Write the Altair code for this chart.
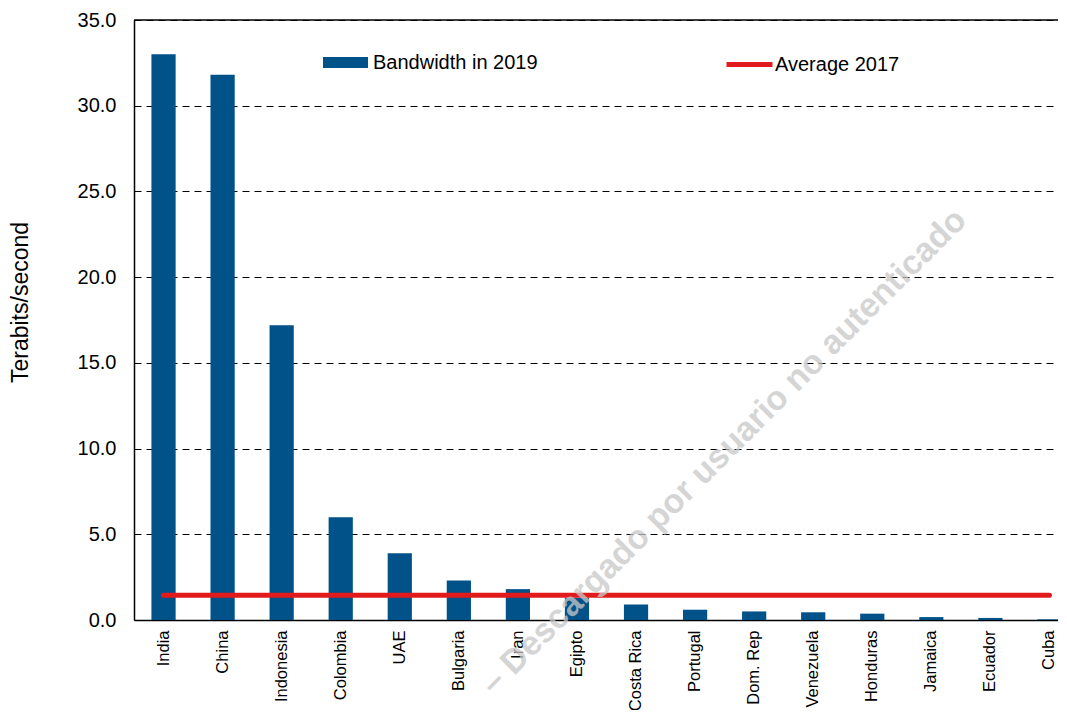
import altair as alt
import pandas as pd

countries = ["India", "China", "Indonesia", "Colombia", "UAE", "Bulgaria", "Iran", "Egipto",
             "Costa Rica", "Portugal", "Dom. Rep", "Venezuela", "Honduras", "Jamaica", "Ecuador", "Cuba"]
bandwidth_2019 = [33.0, 31.8, 17.2, 6.0, 3.9, 2.3, 1.8, 1.3, 0.9, 0.6, 0.5, 0.45, 0.37, 0.17, 0.12, 0.04]
average_2017 = 1.45
y_ticks = [0, 5, 10, 15, 20, 25, 30, 35]
bar_series = "Bandwidth in 2019"
line_series = "Average 2017"
watermark = "– Descargado por usuario no autenticado"

FONT = "Liberation Sans"
BLUE = "#005288"
RED = "#E11B1B"

df = pd.DataFrame({
    "country": countries,
    "value": bandwidth_2019,
    "avg": [average_2017] * len(countries),
    "s1": [bar_series] * len(countries),
    "s2": [line_series] * len(countries),
})

x_scale = alt.Scale(domain=countries, range=[0, 945], paddingInner=0.59, paddingOuter=0.295)
y_scale = alt.Scale(domain=[0, 35], nice=False)

x_axis = alt.Axis(title=None, labelAngle=270, labelFontSize=16.5, labelFont=FONT, labelColor="black",
                  ticks=False, domainColor="black", domainWidth=1.5, labelPadding=10, grid=False,
                  labelLimit=0)
y_axis = alt.Axis(title="Terabits/second", values=y_ticks, format=".1f", labelFontSize=20,
                  labelFont=FONT, labelColor="black", ticks=False, labelPadding=18,
                  domainColor="black", domainWidth=1.5, grid=True, gridColor="black",
                  gridDash=[7, 5], gridWidth=1.2, titleFontSize=23, titleFont=FONT,
                  titleFontWeight="normal", titleColor="black", titleAngle=270,
                  titleX=-114, titleY=282, titleAlign="center", titleBaseline="middle",
                  titleLimit=0)

bars = alt.Chart(df).mark_bar(opacity=1).encode(
    x=alt.X("country:N", scale=x_scale, axis=x_axis, sort=countries),
    y=alt.Y("value:Q", scale=y_scale, axis=y_axis),
    color=alt.Color("s1:N", scale=alt.Scale(domain=[bar_series], range=[BLUE]),
                    legend=alt.Legend(title=None, orient="none", legendX=189, legendY=20,
                                      padding=0, symbolType="M-1,-0.244H1V0.244H-1Z",
                                      symbolSize=2025, symbolStrokeWidth=0, symbolOpacity=1,
                                      labelFontSize=20, labelFont=FONT, labelColor="black",
                                      labelOffset=5, labelLimit=0)),
)

line = alt.Chart(df).mark_line(strokeWidth=5, strokeCap="round").encode(
    x=alt.X("country:N", scale=x_scale, sort=countries),
    y=alt.Y("avg:Q", scale=y_scale),
    stroke=alt.Stroke("s2:N", scale=alt.Scale(domain=[line_series], range=[RED]),
                      legend=alt.Legend(title=None, orient="none", legendX=590, legendY=19,
                                        padding=0, symbolType="stroke", symbolSize=2116,
                                        symbolStrokeWidth=5, symbolOpacity=1,
                                        labelFontSize=20, labelFont=FONT, labelColor="black",
                                        labelOffset=0, labelLimit=0)),
)

top_rule = alt.Chart(pd.DataFrame({"y": [35]})).mark_rule(color="black", strokeWidth=1.5).encode(
    y=alt.Y("y:Q", scale=y_scale)
)

wm = alt.Chart(pd.DataFrame({"t": [watermark]})).mark_text(
    angle=315, fontSize=34, fontWeight="bold", font=FONT, color="#C8C8C8", opacity=0.75,
    align="center", baseline="middle"
).encode(x=alt.value(590), y=alt.value(432), text="t:N")

chart = alt.layer(bars, line, top_rule, wm).properties(
    width=924, height=600,
    autosize=alt.AutoSizeParams(type="none"),
    padding={"left": 126, "top": 12, "right": 0, "bottom": 90},
    background="white",
).configure_view(stroke=None)

chart.save("out.html", embed_options={"renderer": "svg", "actions": False})
